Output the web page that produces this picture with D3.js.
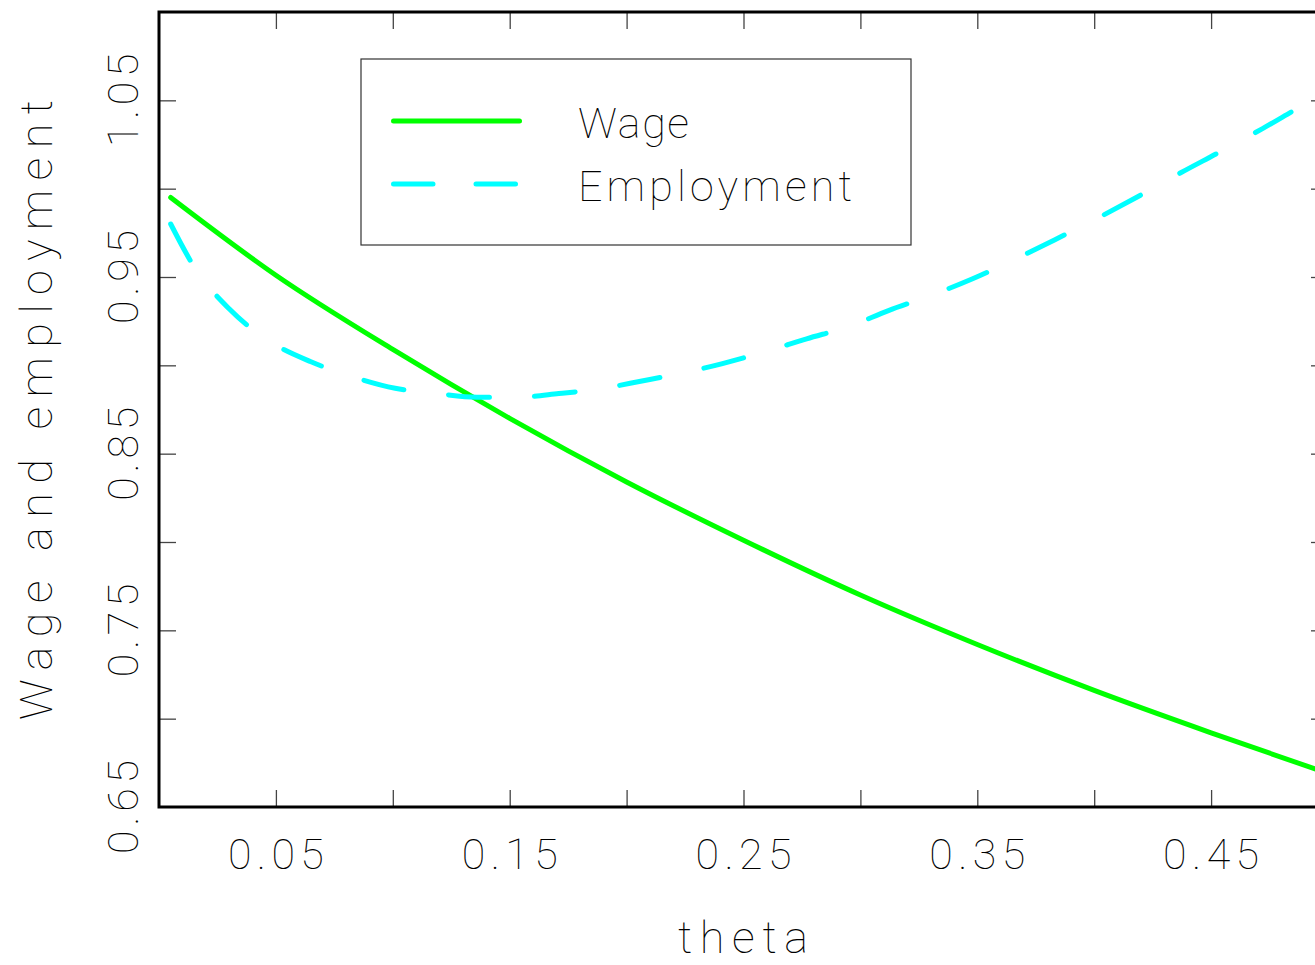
<!DOCTYPE html>
<html>
<head>
<meta charset="utf-8">
<script src="https://cdn.jsdelivr.net/npm/d3@7"></script>
<style>
  html, body { margin: 0; padding: 0; background: #fff; overflow: hidden; }
  svg { display: block; }
  text { font-family: "Roboto", "DejaVu Sans", sans-serif; font-weight: 100; fill: #000; }
</style>
</head>
<body>
<svg id="chart" width="1315" height="965"></svg>
<script>
// ---- data ----
const wageTheta = [0.005, 0.05, 0.10, 0.15, 0.20, 0.25, 0.30, 0.35, 0.40, 0.45, 0.50];
const wageValues = [0.995, 0.951, 0.909, 0.870, 0.834, 0.801, 0.770, 0.742, 0.716, 0.692, 0.669];

const empTheta = [0.005, 0.0154, 0.030, 0.048, 0.065, 0.084, 0.101, 0.119, 0.136, 0.154, 0.171, 0.190, 0.206,
                  0.225, 0.241, 0.260, 0.277, 0.295, 0.312, 0.331, 0.348, 0.366, 0.383, 0.401, 0.418, 0.437,
                  0.454, 0.472, 0.489, 0.5];
const empValues = [0.980, 0.955, 0.932, 0.913, 0.902, 0.893, 0.887, 0.884, 0.882, 0.882, 0.884, 0.887, 0.891,
                   0.896, 0.901, 0.908, 0.915, 0.922, 0.931, 0.940, 0.949, 0.960, 0.971, 0.983, 0.995, 1.009,
                   1.021, 1.034, 1.047, 1.055];

const xTicks = [0.05, 0.10, 0.15, 0.20, 0.25, 0.30, 0.35, 0.40, 0.45];
const yTicks = [0.70, 0.75, 0.80, 0.85, 0.90, 0.95, 1.00, 1.05];
const xTickLabels = ["0.05", "0.15", "0.25", "0.35", "0.45"];
const yTickLabels = ["0.65", "0.75", "0.85", "0.95", "1.05"];
const seriesNames = ["Wage", "Employment"];
const xTitle = "theta";
const yTitle = "Wage and employment";

// ---- layout ----
const svg = d3.select("#chart");
const L = 159, R = 1328, T = 12, B = 807;
const x = d3.scaleLinear().domain([0, 0.5]).range([L, R]);
const y = d3.scaleLinear().domain([0.65, 1.1]).range([B, T]);
const tickLen = 17;

// ticks via axes (inward)
const tickStyle = g => {
  g.select(".domain").remove();
  g.selectAll(".tick line").attr("stroke", "#444").attr("stroke-width", 1.3);
  g.selectAll(".tick text").remove();
};
svg.append("g").attr("transform", `translate(0,${B})`)
  .call(d3.axisBottom(x).tickValues(xTicks).tickSizeInner(-tickLen).tickSizeOuter(0)).call(tickStyle);
svg.append("g").attr("transform", `translate(0,${T})`)
  .call(d3.axisTop(x).tickValues(xTicks).tickSizeInner(-tickLen).tickSizeOuter(0)).call(tickStyle);
svg.append("g").attr("transform", `translate(${L},0)`)
  .call(d3.axisLeft(y).tickValues(yTicks).tickSizeInner(-tickLen).tickSizeOuter(0)).call(tickStyle);
svg.append("g").attr("transform", `translate(${R},0)`)
  .call(d3.axisRight(y).tickValues(yTicks).tickSizeInner(-tickLen).tickSizeOuter(0)).call(tickStyle);

// frame
svg.append("rect").attr("x", L).attr("y", T).attr("width", R - L).attr("height", B - T)
  .attr("fill", "none").attr("stroke", "#000").attr("stroke-width", 3);

// tick labels
svg.selectAll(".xl").data(xTickLabels).join("text")
  .attr("x", d => x(+d)).attr("y", 869)
  .attr("text-anchor", "middle").attr("font-size", 43)
  .attr("textLength", 96).attr("lengthAdjust", "spacing")
  .text(d => d);
svg.selectAll(".yl").data(yTickLabels).join("text")
  .attr("transform", d => `translate(138,${y(+d)}) rotate(-90)`)
  .attr("text-anchor", "middle").attr("font-size", 43)
  .attr("textLength", 94).attr("lengthAdjust", "spacing")
  .text(d => d);

// axis titles
svg.append("text").attr("x", 743).attr("y", 953).attr("text-anchor", "middle")
  .attr("font-size", 45).attr("textLength", 130).attr("lengthAdjust", "spacing").text(xTitle);
svg.append("text").attr("transform", "translate(52,410) rotate(-90)").attr("text-anchor", "middle")
  .attr("font-size", 45).attr("textLength", 620).attr("lengthAdjust", "spacing").text(yTitle);

// lines
const wageData = wageTheta.map((t, i) => [t, wageValues[i]]);
const empData = empTheta.map((t, i) => [t, empValues[i]]);

svg.append("path").datum(wageData)
  .attr("d", d3.line().x(d => x(d[0])).y(d => y(d[1])).curve(d3.curveMonotoneX))
  .attr("fill", "none").attr("stroke", "#00ff00").attr("stroke-width", 5)
  .attr("stroke-linecap", "round").attr("stroke-linejoin", "round");
svg.append("path").datum(empData)
  .attr("d", d3.line().x(d => x(d[0])).y(d => y(d[1])).curve(d3.curveMonotoneX))
  .attr("fill", "none").attr("stroke", "#00ffff").attr("stroke-width", 5)
  .attr("stroke-linecap", "round").attr("stroke-dasharray", "41,45");

// legend
const lg = svg.append("g");
lg.append("rect").attr("x", 361).attr("y", 59).attr("width", 550).attr("height", 186)
  .attr("fill", "#fff").attr("stroke", "#333").attr("stroke-width", 1.2);
lg.append("line").attr("x1", 393.5).attr("x2", 519.5).attr("y1", 121).attr("y2", 121)
  .attr("stroke", "#00ff00").attr("stroke-width", 5).attr("stroke-linecap", "round");
lg.append("line").attr("x1", 393.5).attr("x2", 515.5).attr("y1", 184).attr("y2", 184)
  .attr("stroke", "#00ffff").attr("stroke-width", 5).attr("stroke-linecap", "round")
  .attr("stroke-dasharray", "39.5,43");
lg.selectAll(".lt").data(seriesNames).join("text")
  .attr("x", 578).attr("y", (d, i) => i === 0 ? 138 : 201)
  .attr("font-size", 43)
  .attr("textLength", (d, i) => i === 0 ? 111 : 274).attr("lengthAdjust", "spacing")
  .text(d => d);
</script>
</body>
</html>
